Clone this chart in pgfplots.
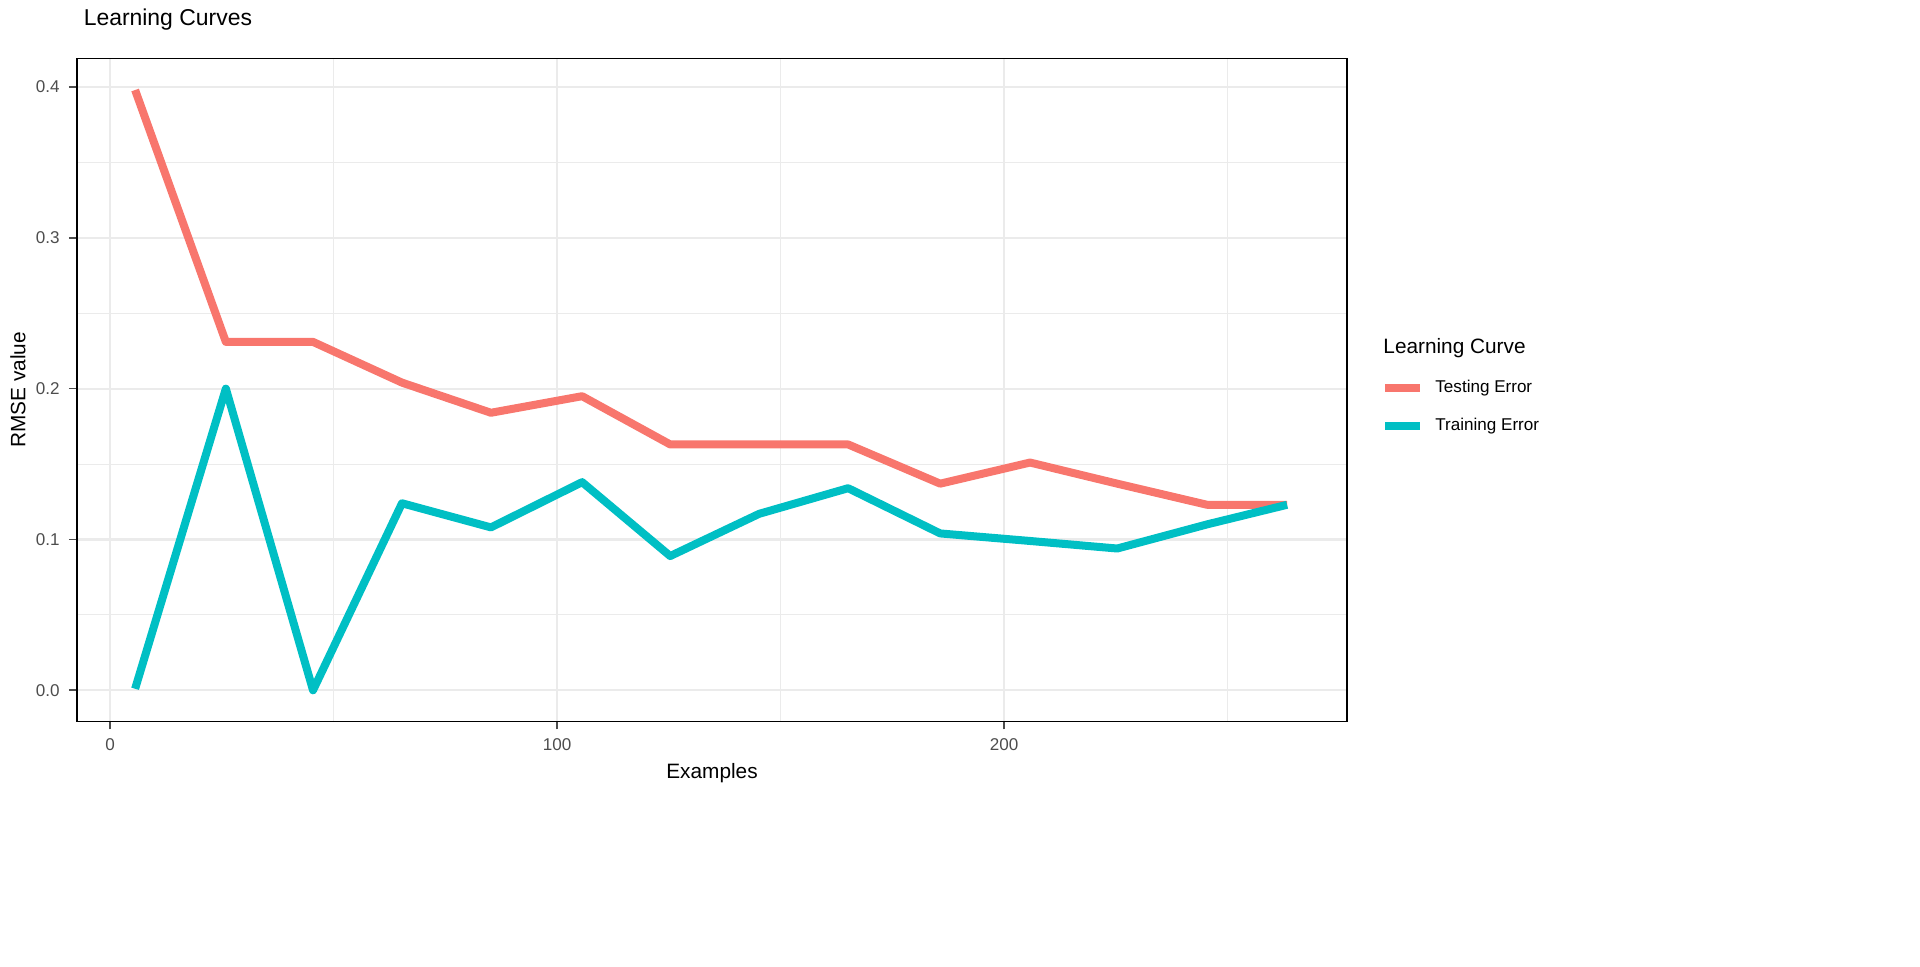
\documentclass[border=0pt]{standalone}
\usepackage{pgfplots}
\pgfplotsset{compat=1.18}
\usepackage{fontspec}
\setmainfont{Liberation Sans}
\definecolor{tst}{HTML}{F8766D}
\definecolor{trn}{HTML}{00BFC4}
\definecolor{gridc}{HTML}{EBEBEB}
\definecolor{tickc}{HTML}{4D4D4D}
\begin{document}
\begin{tikzpicture}[x=0.375pt,y=0.375pt]
\path (0,0) rectangle (1920,960);
\begin{axis}[
  at={(28.875pt,91.875pt)}, anchor=south west, scale only axis,
  width=476.25pt, height=248.625pt,
  xmin=-7.4, xmax=276.7, ymin=-0.0206, ymax=0.419,
  xtick={0,100,200}, minor xtick={50,150,250},
  ytick={0,0.1,0.2,0.3,0.4}, minor ytick={0.05,0.15,0.25,0.35},
  yticklabel style={/pgf/number format/.cd,fixed,fixed zerofill,precision=1},
  /pgf/number format/assume math mode=true,
  grid=both, major grid style={gridc,line width=0.8pt}, minor grid style={gridc,line width=0.4pt},
  tick pos=left, tick align=outside, major tick length=3pt, minor tick length=0pt,
  tick style={tickc,line width=0.6pt},
  ticklabel style={font=\fontsize{6.4}{7}\selectfont, text=tickc},
  axis line style={black,line width=0.5pt},
  xlabel={Examples}, ylabel={RMSE value},
  label style={font=\fontsize{7.8}{9}\selectfont},
  xlabel style={yshift=2pt}, ylabel style={yshift=-3pt},
  title={Learning Curves}, title style={font=\fontsize{8.6}{10}\selectfont, at={(0,1)}, anchor=south west, xshift=-1pt, yshift=1pt},
  clip=false,
]
\addplot[tst, line width=3pt, line join=round] coordinates {
(5.6,0.398)(25.9,0.231)(45.4,0.231)(65.3,0.204)(85.2,0.184)(105.6,0.195)(125.3,0.163)(145.2,0.163)(165.1,0.163)(185.7,0.137)(205.8,0.151)(225.3,0.137)(245.4,0.123)(263.3,0.123)};
\addplot[trn, line width=3pt, line join=round] coordinates {
(5.6,0.001)(25.9,0.200)(45.4,0.000)(65.3,0.124)(85.2,0.108)(105.6,0.138)(125.3,0.089)(145.2,0.117)(165.1,0.134)(185.7,0.104)(205.8,0.099)(225.3,0.094)(245.4,0.110)(263.3,0.123)};
\end{axis}
\node[anchor=west, font=\fontsize{7.8}{9}\selectfont] at (1374,618) {Learning Curve};
\draw[tst, line width=3pt] (1385,578) -- (1420,578);
\node[anchor=west, font=\fontsize{6.4}{7}\selectfont] at (1426,578) {Testing Error};
\draw[trn, line width=3pt] (1385,540) -- (1420,540);
\node[anchor=west, font=\fontsize{6.4}{7}\selectfont] at (1426,540) {Training Error};
\end{tikzpicture}
\end{document}
